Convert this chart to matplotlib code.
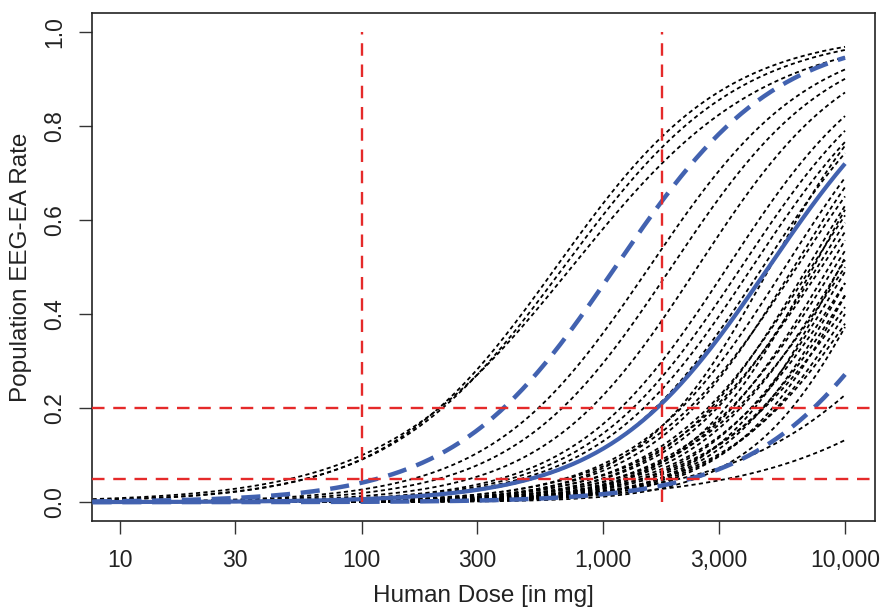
import numpy as np
import matplotlib
matplotlib.use("Agg")
import matplotlib.pyplot as plt

# ---- data (model curves: ED50 [mg] and Hill slope) ----
black_ed50 = [638, 686, 740, 1550, 1915, 2455, 3265, 3725, 4130,
              4570, 5650, 6140, 6320, 7010, 7270, 7690, 8000, 8590,
              9060, 9600, 10000, 10270, 11020, 11800, 12900, 13100, 14200,
              30300, 72600, 4900, 7400, 9540, 10900, 11600, 13600]
black_hill = [1.24, 1.20, 1.10, 1.31, 1.33, 1.36, 1.36, 1.34, 1.34,
              1.35, 1.40, 1.45, 1.35, 1.50, 1.40, 1.45, 1.35, 1.50,
              1.40, 1.45, 1.35, 1.50, 1.40, 1.45, 1.35, 1.50, 1.40,
              1.10, 0.95, 1.60, 1.65, 1.70, 1.60, 1.65, 1.70]
median_ed50, median_hill = 4840, 1.30
upper_ed50, upper_hill = 1122, 1.30
lower_ed50, lower_hill = 21000, 1.33

ref_doses = [100, 1750]
ref_rates = [0.05, 0.2]

dose_min, dose_max = 7.7, 10000
x_ticks = [10, 30, 100, 300, 1000, 3000, 10000]
x_ticklabels = ["10", "30", "100", "300", "1,000", "3,000", "10,000"]
y_ticks = [0.0, 0.2, 0.4, 0.6, 0.8, 1.0]
y_ticklabels = ["0.0", "0.2", "0.4", "0.6", "0.8", "1.0"]

plt.rcParams["font.family"] = ["Liberation Sans", "DejaVu Sans"]

dose = np.logspace(np.log10(dose_min), np.log10(dose_max), 400)


def emax(d, ed50, h):
    return 1.0 / (1.0 + (ed50 / d) ** h)


fig = plt.figure(figsize=(8.81, 6.11), dpi=100)
ax = fig.add_axes([92 / 881, 1 - 521 / 611, (875 - 92) / 881, (521 - 13) / 611])

for e, h in zip(black_ed50, black_hill):
    ax.plot(dose, emax(dose, e, h), color="black", lw=1.3,
            linestyle=(0, (2.3, 1.8)), zorder=2)

blue = "#4262b0"
ax.plot(dose, emax(dose, median_ed50, median_hill), color=blue, lw=3.0, zorder=3,
        solid_capstyle="butt")
ax.plot(dose, emax(dose, upper_ed50, upper_hill), color=blue, lw=3.2,
        linestyle=(0, (4.3, 2.4)), zorder=3)
ax.plot(dose, emax(dose, lower_ed50, lower_hill), color=blue, lw=3.2,
        linestyle=(0, (4.3, 2.4)), zorder=3)

red = "#e52a2a"
for yv in ref_rates:
    ax.axhline(yv, color=red, lw=1.7, linestyle=(0, (5.3, 3.7)), zorder=4)
for xv in ref_doses:
    ax.plot([xv, xv], [0, 1], color=red, lw=1.7, linestyle=(0, (5.3, 3.7)), zorder=4)

ax.set_xscale("log")
ax.set_xlim(10 ** (1 - 28 / 242), 10 ** (4 + 30 / 242))
ax.set_ylim(-0.04, 1.04)
ax.set_xticks(x_ticks)
ax.set_xticklabels(x_ticklabels)
ax.xaxis.set_minor_locator(matplotlib.ticker.NullLocator())
ax.set_yticks(y_ticks)
ax.set_yticklabels(y_ticklabels, rotation=90, va="center")

ax.tick_params(axis="both", direction="out", length=9.5, width=1.0, color="#333333",
               labelsize=16.5, labelcolor="#222222")
ax.tick_params(axis="x", pad=11)
ax.tick_params(axis="y", pad=9)
for s in ax.spines.values():
    s.set_linewidth(1.2)
    s.set_color("#222222")

ax.set_xlabel("Human Dose [in mg]", fontsize=17.5, color="#222222", labelpad=9)
ax.set_ylabel("Population EEG-EA Rate", fontsize=17.5, color="#222222", labelpad=8)

fig.savefig("out.png", dpi=100)
